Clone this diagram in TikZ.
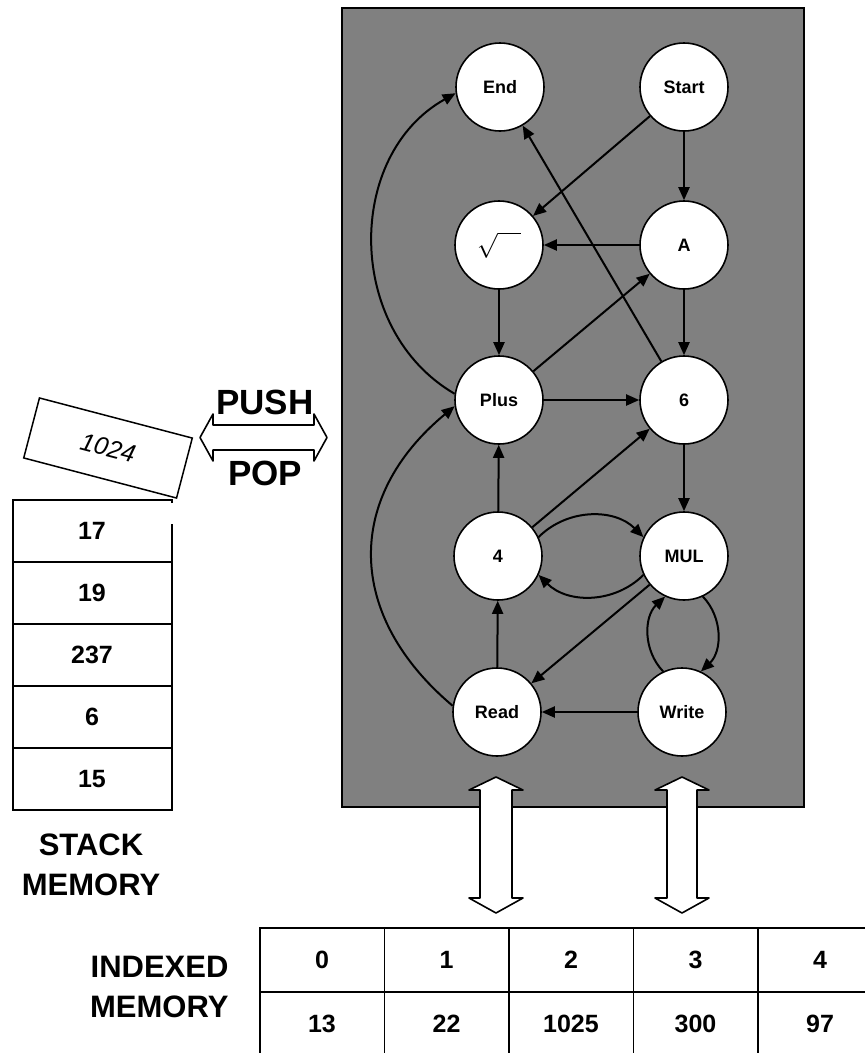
\documentclass[tikz,border=0pt]{standalone}
\usepackage{fontspec}
\setmainfont{Liberation Sans}
\usetikzlibrary{arrows.meta}
\begin{document}
\begin{tikzpicture}[x=1pt,y=-1pt,
  st/.style={circle,draw,line width=1.6pt,fill=white,minimum size=88pt,inner sep=0pt,font=\bfseries\fontsize{18}{18}\selectfont},
  arr/.style={line width=2pt,-{Triangle[length=13pt,width=11pt]}},
  cell/.style={font=\bfseries\fontsize{25}{25}\selectfont},
  big/.style={font=\bfseries\fontsize{31}{31}\selectfont},
  hollow/.style={draw,line width=1.6pt,fill=white,line join=round},
  grid/.style={line width=1.8pt}]
\useasboundingbox (0,0) rectangle (865,1053);
\fill[white] (0,0) rectangle (865,1053);
% shaded program area
\path[fill=black!50,draw=black,line width=1.5pt] (342,8) rectangle (804,807);
% wide double arrows to indexed memory
\foreach \c/\w in {496/16,682/15}{
  \path[hollow] (\c,777) -- ({\c+27},790) -- ({\c+\w},790) -- ({\c+\w},898) -- ({\c+27},898)
    -- (\c,913) -- ({\c-27},898) -- ({\c-\w},898) -- ({\c-\w},790) -- ({\c-27},790) -- cycle;
}
% states
\node[st] (End)   at (500,87)  {End};
\node[st] (Start) at (684,87)  {Start};
\node[st] (Sqrt)  at (499,245) {\fontsize{26}{26}\selectfont\(\sqrt{\hphantom{00}}\)};
\node[st] (A)     at (684,245) {A};
\node[st] (Plus)  at (499,400) {Plus};
\node[st] (Six)   at (684,400) {6};
\node[st] (Four)  at (498,556) {4};
\node[st] (MUL)   at (684,556) {MUL};
\node[st] (Read)  at (497,712) {Read};
\node[st] (Write) at (682,712) {Write};
% transitions
\draw[arr] (Start) -- (A);
\draw[arr] (Start) -- (Sqrt);
\draw[arr] (A) -- (Sqrt);
\draw[arr] (Plus) -- (A);
\draw[arr] (Six) -- (End);
\draw[arr] (Sqrt) -- (Plus);
\draw[arr] (A) -- (Six);
\draw[arr] (Plus) -- (Six);
\draw[arr] (Four) -- (Six);
\draw[arr] (Four) -- (Plus);
\draw[arr] (Six) -- (MUL);
\draw[arr] (Four.25) to[bend left=45] (MUL.155);
\draw[arr] (MUL.-155) to[bend left=45] (Four.-25);
\draw[arr] (MUL) -- (Read);
\draw[arr] (Read) -- (Four);
\draw[arr] (Write) -- (Read);
\draw[arr] (MUL.-65) to[bend left=45] (Write.65);
\draw[arr] (Write.115) to[bend left=45] (MUL.-115);
\draw[arr] (Plus.172) .. controls (345,330) and (345,155) .. (End.188);
\draw[arr] (Read.172) .. controls (345,615) and (345,497) .. (Plus.188);
% push / pop
\node[font=\bfseries\fontsize{35}{35}\selectfont] (push) at (265,402) {PUSH};
\node[font=\bfseries\fontsize{35}{35}\selectfont] (pop) at (265,473) {POP};
\path[hollow] (200,437.5) -- (213,414) -- (213,425) -- (314,425) -- (314,414) -- (327,437.5)
  -- (314,461) -- (314,450) -- (213,450) -- (213,461) -- cycle;
% item being pushed
\node[draw,line width=1.5pt,minimum width=158pt,minimum height=62pt,rotate=-14.7,
  font=\itshape\fontsize{25}{25}\selectfont] (top) at (108,448) {1024};
% stack memory
\draw[grid] (172,503) -- (172,500) -- (13,500) -- (13,810) -- (172,810) -- (172,524);
\foreach \y in {562,624,686,748}{ \draw[line width=1.4pt] (13,\y) -- (172,\y); }
\node[cell] (s1) at (92,531) {17};
\node[cell] (s2) at (92,593) {19};
\node[cell] (s3) at (92,655) {237};
\node[cell] (s4) at (92,717) {6};
\node[cell] (s5) at (92,779) {15};
\node[big] (stk1) at (91,845) {STACK};
\node[big] (stk2) at (91,885) {MEMORY};
% indexed memory
\draw[grid] (865,928) -- (260,928) -- (260,1053);
\draw[grid] (260,992) -- (865,992);
\foreach \x in {384.5,509,633.5,758}{ \draw[line width=1.4pt] (\x,928) -- (\x,1053); }
\foreach \t [count=\i from 0] in {0,1,2,3,4}{
  \node[cell] (h\i) at ({322+124.5*\i},960) {\t};
}
\foreach \t [count=\i from 0] in {13,22,1025,300,97}{
  \node[cell] (v\i) at ({322+124.5*\i},1024) {\t};
}
\node[big,anchor=east] (ix1) at (232,967) {INDEXED};
\node[big,anchor=east] (ix2) at (232,1007) {MEMORY};
\end{tikzpicture}
\end{document}
